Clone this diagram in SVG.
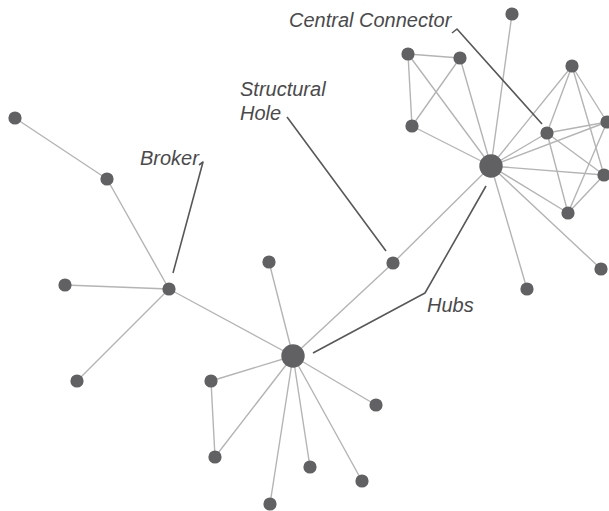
<svg xmlns="http://www.w3.org/2000/svg" width="609" height="511" viewBox="0 0 609 511">
<style>
.e{stroke:#b4b4b4;stroke-width:1.4;fill:none;stroke-linecap:round}
.l{stroke:#58585a;stroke-width:1.6;fill:none;stroke-linejoin:round}
.n{fill:#616164}
.t{font-family:"Liberation Sans",Arial,sans-serif;font-style:italic;font-size:20px;fill:#4a4a4c}
</style>
<rect width="609" height="511" fill="#ffffff"/>
<g id="connectors">
<line class="e" x1="15" y1="118" x2="107" y2="179"/>
<line class="e" x1="107" y1="179" x2="169" y2="289"/>
<line class="e" x1="65" y1="285" x2="169" y2="289"/>
<line class="e" x1="77" y1="381" x2="169" y2="289"/>
<line class="e" x1="169" y1="289" x2="293" y2="356"/>
<line class="e" x1="269" y1="262" x2="293" y2="356"/>
<line class="e" x1="393" y1="263" x2="293" y2="356"/>
<line class="e" x1="211" y1="381" x2="293" y2="356"/>
<line class="e" x1="215" y1="457" x2="293" y2="356"/>
<line class="e" x1="211" y1="381" x2="215" y2="457"/>
<line class="e" x1="270" y1="504" x2="293" y2="356"/>
<line class="e" x1="310" y1="467" x2="293" y2="356"/>
<line class="e" x1="362" y1="481" x2="293" y2="356"/>
<line class="e" x1="376" y1="405" x2="293" y2="356"/>
<line class="e" x1="393" y1="263" x2="491" y2="166"/>
<line class="e" x1="512" y1="14" x2="491" y2="166"/>
<line class="e" x1="408" y1="54" x2="491" y2="166"/>
<line class="e" x1="460" y1="58" x2="491" y2="166"/>
<line class="e" x1="412" y1="126" x2="491" y2="166"/>
<line class="e" x1="408" y1="54" x2="460" y2="58"/>
<line class="e" x1="408" y1="54" x2="412" y2="126"/>
<line class="e" x1="460" y1="58" x2="412" y2="126"/>
<line class="e" x1="547" y1="133" x2="491" y2="166"/>
<line class="e" x1="572" y1="66" x2="491" y2="166"/>
<line class="e" x1="607" y1="122" x2="491" y2="166"/>
<line class="e" x1="604" y1="175" x2="491" y2="166"/>
<line class="e" x1="568" y1="213" x2="491" y2="166"/>
<line class="e" x1="601" y1="269" x2="491" y2="166"/>
<line class="e" x1="527" y1="289" x2="491" y2="166"/>
<line class="e" x1="547" y1="133" x2="572" y2="66"/>
<line class="e" x1="547" y1="133" x2="607" y2="122"/>
<line class="e" x1="547" y1="133" x2="604" y2="175"/>
<line class="e" x1="547" y1="133" x2="568" y2="213"/>
<line class="e" x1="572" y1="66" x2="607" y2="122"/>
<line class="e" x1="572" y1="66" x2="604" y2="175"/>
<line class="e" x1="607" y1="122" x2="568" y2="213"/>
<line class="e" x1="604" y1="175" x2="568" y2="213"/>
<polyline class="l" points="452,33 457,29 542,124"/>
<polyline class="l" points="287,117 290,121 386,251"/>
<polyline class="l" points="199,165 203,162 173,273"/>
<polyline class="l" points="313,353 425,293 486,186"/>
</g>
<g id="hub-left"><circle class="n" cx="293" cy="356" r="11.7"/></g>
<g id="hub-right"><circle class="n" cx="491" cy="166" r="11.7"/></g>
<g id="broker"><circle class="n" cx="169" cy="289" r="6.6"/></g>
<g id="structural-hole"><circle class="n" cx="393" cy="263" r="6.6"/></g>
<g id="central-connector"><circle class="n" cx="547" cy="133" r="6.6"/></g>
<g id="n1"><circle class="n" cx="15" cy="118" r="6.6"/></g>
<g id="n2"><circle class="n" cx="107" cy="179" r="6.6"/></g>
<g id="n3"><circle class="n" cx="65" cy="285" r="6.6"/></g>
<g id="n4"><circle class="n" cx="77" cy="381" r="6.6"/></g>
<g id="n5"><circle class="n" cx="269" cy="262" r="6.6"/></g>
<g id="n6"><circle class="n" cx="211" cy="381" r="6.6"/></g>
<g id="n7"><circle class="n" cx="215" cy="457" r="6.6"/></g>
<g id="n8"><circle class="n" cx="270" cy="504" r="6.6"/></g>
<g id="n9"><circle class="n" cx="310" cy="467" r="6.6"/></g>
<g id="n10"><circle class="n" cx="362" cy="481" r="6.6"/></g>
<g id="n11"><circle class="n" cx="376" cy="405" r="6.6"/></g>
<g id="n12"><circle class="n" cx="512" cy="14" r="6.6"/></g>
<g id="n13"><circle class="n" cx="408" cy="54" r="6.6"/></g>
<g id="n14"><circle class="n" cx="460" cy="58" r="6.6"/></g>
<g id="n15"><circle class="n" cx="412" cy="126" r="6.6"/></g>
<g id="n16"><circle class="n" cx="572" cy="66" r="6.6"/></g>
<g id="n17"><circle class="n" cx="607" cy="122" r="6.6"/></g>
<g id="n18"><circle class="n" cx="604" cy="175" r="6.6"/></g>
<g id="n19"><circle class="n" cx="568" cy="213" r="6.6"/></g>
<g id="n20"><circle class="n" cx="601" cy="269" r="6.6"/></g>
<g id="n21"><circle class="n" cx="527" cy="289" r="6.6"/></g>
<g id="labels">
<text class="t" x="289" y="27">Central Connector</text>
<text class="t" x="240" y="96">Structural</text>
<text class="t" x="240" y="120">Hole</text>
<text class="t" x="140" y="165">Broker</text>
<text class="t" x="427" y="312">Hubs</text>
</g>
</svg>
